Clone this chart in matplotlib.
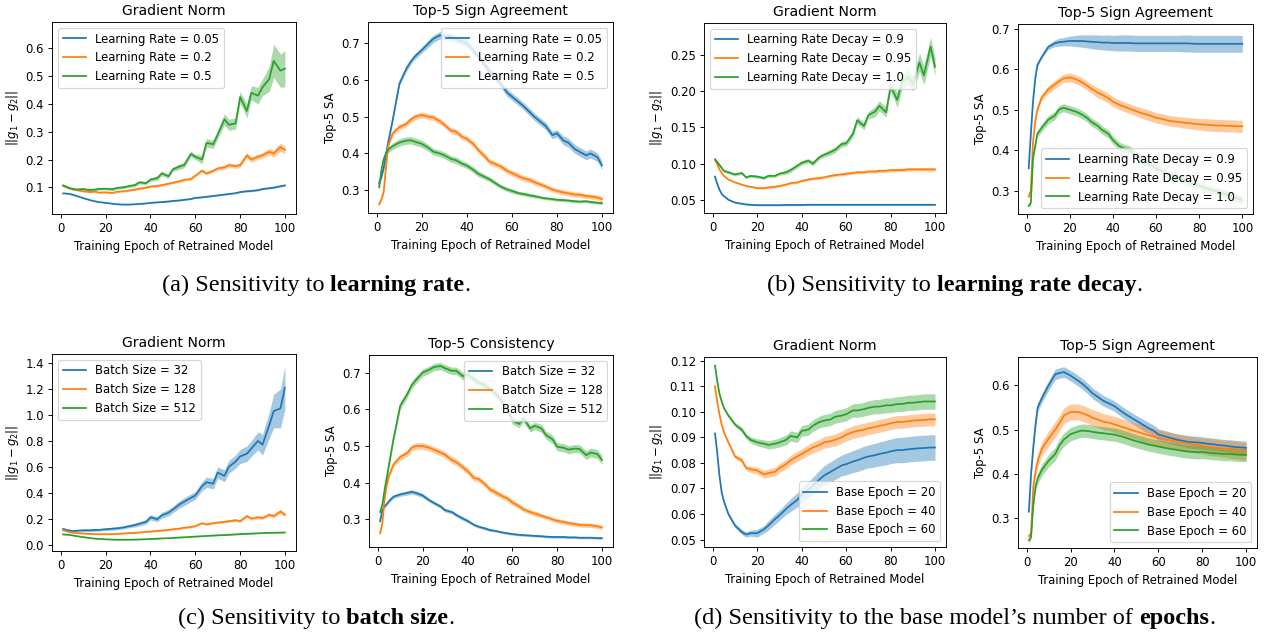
import matplotlib
matplotlib.use("Agg")
import matplotlib.pyplot as plt
import numpy as np

# ---------------- data ----------------
EPOCHS = [1, 2, 3, 4, 5, 7, 10,
          13, 15, 17, 20, 23, 25, 28, 30, 33, 35, 38, 40, 43, 45, 48, 50,
          53, 55, 58, 60, 63, 65, 68, 70, 73, 75, 78, 80, 83, 85, 88, 90,
          93, 95, 98, 100]

LR_LABELS = ["Learning Rate = 0.05", "Learning Rate = 0.2", "Learning Rate = 0.5"]
LRD_LABELS = ["Learning Rate Decay = 0.9", "Learning Rate Decay = 0.95", "Learning Rate Decay = 1.0"]
BS_LABELS = ["Batch Size = 32", "Batch Size = 128", "Batch Size = 512"]
BE_LABELS = ["Base Epoch = 20", "Base Epoch = 40", "Base Epoch = 60"]

# (a) learning rate - gradient norm
LR_GN_005 = [0.078, 0.078, 0.077, 0.076, 0.074, 0.069, 0.061,
             0.054, 0.050, 0.047, 0.044, 0.041, 0.039, 0.038, 0.038,
             0.039, 0.040, 0.042, 0.044, 0.046, 0.047, 0.049, 0.051,
             0.053, 0.055, 0.058, 0.062, 0.064, 0.066, 0.069, 0.071,
             0.074, 0.076, 0.079, 0.083, 0.086, 0.087, 0.090, 0.094,
             0.097, 0.099, 0.104, 0.107]
LR_GN_005_SD = [0.001, 0.001, 0.001, 0.001, 0.001, 0.001, 0.001,
                0.001, 0.001, 0.001, 0.001, 0.001, 0.001, 0.001, 0.001,
                0.001, 0.001, 0.001, 0.001, 0.002, 0.002, 0.002, 0.002,
                0.002, 0.002, 0.002, 0.002, 0.002, 0.002, 0.002, 0.002,
                0.002, 0.002, 0.002, 0.002, 0.003, 0.003, 0.003, 0.003,
                0.003, 0.003, 0.003, 0.003]
LR_GN_02 = [0.105, 0.102, 0.099, 0.096, 0.094, 0.090, 0.086,
            0.083, 0.085, 0.081, 0.082, 0.080, 0.084, 0.086, 0.088,
            0.092, 0.095, 0.099, 0.103, 0.105, 0.108, 0.113, 0.117,
            0.122, 0.127, 0.130, 0.142, 0.160, 0.150, 0.160, 0.168,
            0.172, 0.180, 0.176, 0.180, 0.215, 0.200, 0.210, 0.215,
            0.228, 0.222, 0.245, 0.235]
LR_GN_02_SD = [0.003, 0.003, 0.003, 0.003, 0.003, 0.003, 0.003,
               0.003, 0.003, 0.003, 0.003, 0.003, 0.003, 0.003, 0.003,
               0.004, 0.004, 0.004, 0.004, 0.004, 0.004, 0.004, 0.004,
               0.005, 0.005, 0.005, 0.005, 0.006, 0.006, 0.006, 0.006,
               0.008, 0.008, 0.008, 0.008, 0.010, 0.010, 0.010, 0.010,
               0.012, 0.013, 0.015, 0.015]
LR_GN_05 = [0.107, 0.104, 0.100, 0.097, 0.095, 0.092, 0.094,
            0.090, 0.092, 0.094, 0.095, 0.093, 0.098, 0.100, 0.104,
            0.108, 0.118, 0.115, 0.128, 0.133, 0.150, 0.140, 0.165,
            0.175, 0.180, 0.220, 0.210, 0.200, 0.260, 0.255, 0.290,
            0.345, 0.325, 0.330, 0.425, 0.375, 0.440, 0.430, 0.460,
            0.490, 0.555, 0.520, 0.527]
LR_GN_05_SD = [0.004, 0.004, 0.004, 0.004, 0.004, 0.004, 0.004,
               0.004, 0.004, 0.004, 0.004, 0.005, 0.005, 0.005, 0.005,
               0.006, 0.006, 0.006, 0.006, 0.008, 0.008, 0.008, 0.008,
               0.010, 0.010, 0.010, 0.010, 0.015, 0.015, 0.015, 0.015,
               0.020, 0.020, 0.020, 0.020, 0.025, 0.025, 0.030, 0.030,
               0.045, 0.060, 0.060, 0.065]

# (a) learning rate - top-5 sign agreement
LR_SA_005 = [0.320, 0.335, 0.360, 0.395, 0.430, 0.490, 0.590,
             0.630, 0.650, 0.665, 0.682, 0.700, 0.712, 0.722, 0.720,
             0.718, 0.712, 0.705, 0.700, 0.680, 0.665, 0.640, 0.625,
             0.605, 0.590, 0.565, 0.555, 0.540, 0.530, 0.512, 0.500,
             0.485, 0.475, 0.450, 0.455, 0.435, 0.430, 0.412, 0.405,
             0.395, 0.400, 0.390, 0.368]
LR_SA_005_SD = [0.005, 0.005, 0.005, 0.005, 0.005, 0.005, 0.006,
                0.008, 0.008, 0.008, 0.008, 0.010, 0.010, 0.010, 0.010,
                0.010, 0.010, 0.010, 0.010, 0.010, 0.010, 0.010, 0.010,
                0.010, 0.010, 0.010, 0.010, 0.010, 0.010, 0.010, 0.010,
                0.010, 0.010, 0.010, 0.010, 0.012, 0.012, 0.012, 0.012,
                0.012, 0.012, 0.012, 0.012]
LR_SA_02 = [0.262, 0.275, 0.295, 0.360, 0.420, 0.455, 0.472,
            0.480, 0.492, 0.500, 0.505, 0.500, 0.498, 0.488, 0.478,
            0.462, 0.460, 0.445, 0.440, 0.425, 0.410, 0.392, 0.378,
            0.370, 0.365, 0.352, 0.347, 0.338, 0.333, 0.328, 0.322,
            0.315, 0.310, 0.302, 0.298, 0.294, 0.292, 0.288, 0.288,
            0.284, 0.283, 0.280, 0.276]
LR_SA_02_SD = [0.005, 0.005, 0.005, 0.005, 0.006, 0.007, 0.008,
               0.008, 0.008, 0.008, 0.008, 0.008, 0.008, 0.008, 0.008,
               0.008, 0.008, 0.008, 0.008, 0.008, 0.008, 0.008, 0.008,
               0.008, 0.008, 0.008, 0.008, 0.008, 0.008, 0.008, 0.008,
               0.007, 0.007, 0.007, 0.007, 0.007, 0.007, 0.007, 0.007,
               0.007, 0.007, 0.007, 0.007]
LR_SA_05 = [0.308, 0.355, 0.385, 0.400, 0.410, 0.420, 0.430,
            0.435, 0.436, 0.432, 0.426, 0.415, 0.405, 0.400, 0.395,
            0.385, 0.382, 0.372, 0.367, 0.355, 0.345, 0.336, 0.330,
            0.318, 0.310, 0.302, 0.298, 0.292, 0.290, 0.286, 0.284,
            0.280, 0.278, 0.276, 0.274, 0.273, 0.272, 0.270, 0.269,
            0.270, 0.268, 0.266, 0.265]
LR_SA_05_SD = [0.005, 0.005, 0.006, 0.007, 0.008, 0.009, 0.010,
               0.010, 0.010, 0.010, 0.010, 0.009, 0.009, 0.009, 0.009,
               0.009, 0.009, 0.008, 0.008, 0.008, 0.008, 0.007, 0.007,
               0.006, 0.006, 0.006, 0.006, 0.005, 0.005, 0.005, 0.005,
               0.004, 0.004, 0.004, 0.004, 0.004, 0.004, 0.004, 0.004,
               0.004, 0.004, 0.004, 0.004]

# (b) learning rate decay - gradient norm
LRD_GN_09 = [0.082, 0.072, 0.064, 0.058, 0.055, 0.050, 0.046,
             0.0445, 0.0435, 0.043, 0.0425, 0.0425, 0.0425, 0.0425, 0.0425,
             0.0428, 0.0428, 0.0428, 0.0428, 0.043, 0.043, 0.043, 0.043,
             0.043, 0.043, 0.043, 0.043, 0.043, 0.043, 0.043, 0.043,
             0.043, 0.043, 0.043, 0.043, 0.043, 0.043, 0.043, 0.043,
             0.043, 0.043, 0.043, 0.043]
LRD_GN_09_SD = [0.001, 0.001, 0.001, 0.001, 0.001, 0.001, 0.001,
                0.001, 0.001, 0.001, 0.001, 0.001, 0.001, 0.001, 0.001,
                0.001, 0.001, 0.001, 0.001, 0.001, 0.001, 0.001, 0.001,
                0.001, 0.001, 0.001, 0.001, 0.001, 0.001, 0.001, 0.001,
                0.001, 0.001, 0.001, 0.001, 0.001, 0.001, 0.001, 0.001,
                0.001, 0.001, 0.001, 0.001]
LRD_GN_095 = [0.105, 0.099, 0.092, 0.087, 0.083, 0.078, 0.074,
              0.071, 0.069, 0.068, 0.066, 0.066, 0.067, 0.068, 0.069,
              0.071, 0.073, 0.074, 0.076, 0.078, 0.079, 0.080, 0.081,
              0.083, 0.084, 0.085, 0.086, 0.087, 0.088, 0.088, 0.089,
              0.089, 0.090, 0.090, 0.091, 0.091, 0.091, 0.092, 0.092,
              0.092, 0.092, 0.092, 0.092]
LRD_GN_095_SD = [0.001, 0.001, 0.001, 0.001, 0.001, 0.001, 0.001,
                 0.0012, 0.0012, 0.0012, 0.0012, 0.0015, 0.0015, 0.0015, 0.0015,
                 0.0015, 0.0015, 0.0015, 0.0015, 0.0018, 0.0018, 0.0018, 0.0018,
                 0.002, 0.002, 0.002, 0.002, 0.002, 0.002, 0.002, 0.002,
                 0.0022, 0.0022, 0.0022, 0.0022, 0.0024, 0.0024, 0.0024, 0.0024,
                 0.0025, 0.0025, 0.0025, 0.0025]
LRD_GN_10 = [0.106, 0.102, 0.098, 0.094, 0.090, 0.088, 0.085,
             0.087, 0.081, 0.083, 0.082, 0.080, 0.083, 0.083, 0.086,
             0.088, 0.091, 0.097, 0.101, 0.104, 0.100, 0.109, 0.112,
             0.116, 0.119, 0.127, 0.128, 0.141, 0.160, 0.152, 0.167,
             0.172, 0.180, 0.171, 0.207, 0.188, 0.212, 0.220, 0.210,
             0.240, 0.222, 0.262, 0.234]
LRD_GN_10_SD = [0.002, 0.002, 0.002, 0.002, 0.002, 0.002, 0.002,
                0.002, 0.002, 0.002, 0.002, 0.002, 0.002, 0.002, 0.002,
                0.003, 0.003, 0.003, 0.003, 0.003, 0.003, 0.003, 0.003,
                0.004, 0.004, 0.004, 0.004, 0.005, 0.005, 0.005, 0.005,
                0.007, 0.007, 0.007, 0.007, 0.010, 0.010, 0.010, 0.010,
                0.013, 0.013, 0.013, 0.013]

# (b) learning rate decay - top-5 sign agreement
LRD_SA_09 = [0.355, 0.440, 0.520, 0.575, 0.610, 0.630, 0.655,
             0.664, 0.667, 0.668, 0.670, 0.670, 0.670, 0.669, 0.668,
             0.667, 0.666, 0.666, 0.665, 0.665, 0.665, 0.665, 0.664,
             0.664, 0.664, 0.664, 0.664, 0.664, 0.664, 0.664, 0.664,
             0.664, 0.664, 0.663, 0.663, 0.663, 0.663, 0.663, 0.663,
             0.663, 0.663, 0.663, 0.663]
LRD_SA_09_SD = [0.004, 0.004, 0.004, 0.004, 0.004, 0.004, 0.006,
                0.008, 0.010, 0.010, 0.012, 0.014, 0.015, 0.016, 0.017,
                0.018, 0.018, 0.019, 0.019, 0.020, 0.020, 0.020, 0.020,
                0.020, 0.020, 0.020, 0.020, 0.020, 0.020, 0.020, 0.020,
                0.021, 0.021, 0.021, 0.021, 0.021, 0.021, 0.021, 0.021,
                0.021, 0.021, 0.021, 0.021]
LRD_SA_095 = [0.285, 0.300, 0.420, 0.470, 0.500, 0.530, 0.550,
              0.562, 0.570, 0.577, 0.580, 0.575, 0.570, 0.560, 0.552,
              0.542, 0.537, 0.528, 0.520, 0.512, 0.508, 0.502, 0.498,
              0.492, 0.489, 0.484, 0.480, 0.477, 0.474, 0.471, 0.470,
              0.468, 0.467, 0.465, 0.464, 0.463, 0.462, 0.461, 0.461,
              0.460, 0.460, 0.459, 0.459]
LRD_SA_095_SD = [0.005, 0.005, 0.005, 0.005, 0.006, 0.008, 0.010,
                 0.010, 0.010, 0.010, 0.011, 0.011, 0.011, 0.011, 0.011,
                 0.012, 0.012, 0.012, 0.012, 0.012, 0.012, 0.012, 0.012,
                 0.013, 0.013, 0.013, 0.013, 0.013, 0.013, 0.013, 0.013,
                 0.014, 0.014, 0.014, 0.014, 0.015, 0.015, 0.015, 0.015,
                 0.015, 0.015, 0.015, 0.015]
LRD_SA_10 = [0.262, 0.270, 0.380, 0.410, 0.440, 0.455, 0.475,
             0.485, 0.500, 0.505, 0.500, 0.495, 0.490, 0.480, 0.470,
             0.460, 0.450, 0.440, 0.425, 0.410, 0.405, 0.400, 0.390,
             0.380, 0.372, 0.362, 0.355, 0.348, 0.342, 0.336, 0.332,
             0.326, 0.322, 0.316, 0.312, 0.306, 0.303, 0.298, 0.295,
             0.290, 0.287, 0.280, 0.276]
LRD_SA_10_SD = [0.005, 0.005, 0.006, 0.007, 0.008, 0.009, 0.010,
                0.010, 0.010, 0.010, 0.010, 0.010, 0.010, 0.010, 0.010,
                0.010, 0.010, 0.010, 0.010, 0.010, 0.010, 0.010, 0.010,
                0.010, 0.010, 0.010, 0.010, 0.010, 0.010, 0.010, 0.010,
                0.010, 0.010, 0.010, 0.010, 0.010, 0.010, 0.010, 0.010,
                0.010, 0.010, 0.010, 0.010]

# (c) batch size - gradient norm
BS_GN_32 = [0.120, 0.115, 0.110, 0.108, 0.105, 0.106, 0.110,
            0.110, 0.112, 0.113, 0.118, 0.122, 0.125, 0.132, 0.140,
            0.150, 0.160, 0.175, 0.210, 0.195, 0.225, 0.245, 0.270,
            0.310, 0.330, 0.360, 0.378, 0.450, 0.480, 0.470, 0.555,
            0.530, 0.600, 0.640, 0.680, 0.700, 0.740, 0.800, 0.770,
            0.920, 1.030, 1.050, 1.210]
BS_GN_32_SD = [0.010, 0.010, 0.010, 0.010, 0.010, 0.010, 0.010,
               0.010, 0.010, 0.010, 0.010, 0.012, 0.012, 0.012, 0.012,
               0.015, 0.015, 0.018, 0.020, 0.020, 0.022, 0.025, 0.025,
               0.028, 0.030, 0.030, 0.030, 0.035, 0.040, 0.040, 0.045,
               0.045, 0.050, 0.050, 0.055, 0.060, 0.060, 0.070, 0.080,
               0.100, 0.130, 0.150, 0.170]
BS_GN_128 = [0.110, 0.105, 0.100, 0.095, 0.092, 0.088, 0.085,
             0.082, 0.080, 0.080, 0.080, 0.080, 0.082, 0.085, 0.088,
             0.090, 0.093, 0.098, 0.100, 0.105, 0.108, 0.113, 0.118,
             0.123, 0.130, 0.135, 0.142, 0.165, 0.155, 0.165, 0.170,
             0.175, 0.180, 0.188, 0.180, 0.220, 0.200, 0.210, 0.205,
             0.230, 0.220, 0.255, 0.230]
BS_GN_128_SD = [0.004, 0.004, 0.004, 0.004, 0.004, 0.004, 0.004,
                0.004, 0.004, 0.004, 0.004, 0.004, 0.004, 0.004, 0.004,
                0.005, 0.005, 0.005, 0.005, 0.006, 0.006, 0.006, 0.006,
                0.007, 0.007, 0.007, 0.007, 0.008, 0.008, 0.008, 0.008,
                0.010, 0.010, 0.010, 0.010, 0.012, 0.012, 0.012, 0.012,
                0.014, 0.015, 0.015, 0.015]
BS_GN_512 = [0.078, 0.077, 0.076, 0.074, 0.071, 0.065, 0.057,
             0.050, 0.046, 0.043, 0.040, 0.038, 0.037, 0.037, 0.037,
             0.038, 0.039, 0.041, 0.043, 0.045, 0.047, 0.049, 0.051,
             0.054, 0.056, 0.059, 0.061, 0.064, 0.066, 0.069, 0.071,
             0.073, 0.075, 0.078, 0.080, 0.083, 0.084, 0.087, 0.088,
             0.090, 0.091, 0.092, 0.093]
BS_GN_512_SD = [0.002, 0.002, 0.002, 0.002, 0.002, 0.002, 0.002,
                0.002, 0.002, 0.002, 0.002, 0.002, 0.002, 0.002, 0.002,
                0.002, 0.002, 0.002, 0.002, 0.002, 0.002, 0.002, 0.002,
                0.002, 0.002, 0.002, 0.002, 0.002, 0.002, 0.002, 0.002,
                0.003, 0.003, 0.003, 0.003, 0.003, 0.003, 0.003, 0.003,
                0.003, 0.003, 0.003, 0.003]

# (c) batch size - top-5 consistency
BS_SA_32 = [0.295, 0.325, 0.335, 0.342, 0.350, 0.362, 0.368,
            0.372, 0.375, 0.372, 0.365, 0.352, 0.345, 0.335, 0.325,
            0.320, 0.312, 0.302, 0.296, 0.285, 0.280, 0.275, 0.271,
            0.268, 0.265, 0.262, 0.260, 0.258, 0.257, 0.256, 0.255,
            0.254, 0.253, 0.252, 0.252, 0.252, 0.251, 0.251, 0.250,
            0.250, 0.250, 0.249, 0.249]
BS_SA_32_SD = [0.004, 0.004, 0.004, 0.004, 0.005, 0.005, 0.005,
               0.006, 0.006, 0.006, 0.006, 0.005, 0.005, 0.005, 0.005,
               0.005, 0.005, 0.005, 0.005, 0.004, 0.004, 0.004, 0.004,
               0.003, 0.003, 0.003, 0.003, 0.003, 0.003, 0.003, 0.003,
               0.003, 0.003, 0.003, 0.003, 0.003, 0.003, 0.003, 0.003,
               0.003, 0.003, 0.003, 0.003]
BS_SA_128 = [0.262, 0.290, 0.355, 0.395, 0.420, 0.450, 0.470,
             0.480, 0.495, 0.500, 0.500, 0.495, 0.490, 0.482, 0.476,
             0.462, 0.456, 0.442, 0.432, 0.412, 0.410, 0.395, 0.382,
             0.372, 0.365, 0.356, 0.346, 0.336, 0.327, 0.320, 0.316,
             0.310, 0.306, 0.300, 0.296, 0.293, 0.290, 0.287, 0.285,
             0.284, 0.284, 0.281, 0.278]
BS_SA_128_SD = [0.005, 0.005, 0.006, 0.007, 0.008, 0.008, 0.008,
                0.009, 0.009, 0.009, 0.009, 0.009, 0.009, 0.009, 0.009,
                0.009, 0.009, 0.009, 0.009, 0.008, 0.008, 0.008, 0.008,
                0.008, 0.008, 0.008, 0.008, 0.007, 0.007, 0.007, 0.007,
                0.006, 0.006, 0.006, 0.006, 0.006, 0.006, 0.006, 0.006,
                0.006, 0.006, 0.006, 0.006]
BS_SA_512 = [0.320, 0.340, 0.380, 0.415, 0.450, 0.520, 0.610,
             0.640, 0.665, 0.680, 0.700, 0.708, 0.715, 0.718, 0.712,
             0.705, 0.705, 0.690, 0.695, 0.682, 0.672, 0.665, 0.655,
             0.640, 0.625, 0.600, 0.570, 0.560, 0.575, 0.548, 0.555,
             0.548, 0.530, 0.518, 0.498, 0.495, 0.490, 0.493, 0.492,
             0.475, 0.482, 0.478, 0.462]
BS_SA_512_SD = [0.005, 0.005, 0.006, 0.007, 0.008, 0.009, 0.010,
                0.010, 0.010, 0.010, 0.010, 0.010, 0.010, 0.010, 0.010,
                0.010, 0.010, 0.010, 0.010, 0.010, 0.010, 0.010, 0.010,
                0.010, 0.010, 0.010, 0.010, 0.010, 0.010, 0.010, 0.010,
                0.011, 0.011, 0.011, 0.011, 0.011, 0.011, 0.011, 0.011,
                0.012, 0.012, 0.012, 0.012]

# (d) base epochs - gradient norm
BE_GN_20 = [0.0915, 0.084, 0.075, 0.0685, 0.065, 0.060, 0.0555,
            0.053, 0.052, 0.0525, 0.0525, 0.054, 0.0555, 0.058, 0.0595,
            0.062, 0.0635, 0.0655, 0.0675, 0.0695, 0.071, 0.0735, 0.075,
            0.0765, 0.0775, 0.079, 0.0795, 0.0805, 0.081, 0.082, 0.0825,
            0.083, 0.0835, 0.084, 0.0845, 0.085, 0.085, 0.0853, 0.0855,
            0.0857, 0.0858, 0.086, 0.086]
BE_GN_20_SD = [0.0005, 0.0005, 0.0005, 0.0005, 0.0005, 0.0007, 0.0008,
               0.0010, 0.0010, 0.0012, 0.0015, 0.0015, 0.0018, 0.0020, 0.0020,
               0.0022, 0.0025, 0.0028, 0.0030, 0.0032, 0.0034, 0.0036, 0.0038,
               0.0040, 0.0040, 0.0041, 0.0042, 0.0043, 0.0044, 0.0045, 0.0045,
               0.0046, 0.0047, 0.0048, 0.0048, 0.0049, 0.0050, 0.0050, 0.0050,
               0.0050, 0.0050, 0.0050, 0.0050]
BE_GN_40 = [0.110, 0.104, 0.099, 0.095, 0.092, 0.088, 0.0825,
            0.081, 0.078, 0.0775, 0.077, 0.0755, 0.076, 0.0765, 0.078,
            0.0795, 0.081, 0.0825, 0.0835, 0.085, 0.086, 0.087, 0.088,
            0.0885, 0.089, 0.090, 0.091, 0.092, 0.0925, 0.093, 0.0935,
            0.094, 0.0945, 0.095, 0.0955, 0.096, 0.096, 0.0963, 0.0965,
            0.0967, 0.0968, 0.097, 0.097]
BE_GN_40_SD = [0.0005, 0.0005, 0.0005, 0.0005, 0.0005, 0.0007, 0.0008,
               0.0010, 0.0010, 0.0012, 0.0014, 0.0015, 0.0016, 0.0017, 0.0018,
               0.0018, 0.0019, 0.0020, 0.0020, 0.0021, 0.0022, 0.0022, 0.0023,
               0.0023, 0.0024, 0.0024, 0.0025, 0.0025, 0.0025, 0.0025, 0.0025,
               0.0025, 0.0025, 0.0025, 0.0025, 0.0025, 0.0025, 0.0025, 0.0025,
               0.0025, 0.0025, 0.0025, 0.0025]
BE_GN_60 = [0.118, 0.112, 0.107, 0.104, 0.1015, 0.0985, 0.095,
            0.093, 0.0905, 0.089, 0.088, 0.0875, 0.087, 0.0875, 0.088,
            0.089, 0.0905, 0.090, 0.0925, 0.093, 0.0945, 0.096, 0.0965,
            0.097, 0.098, 0.0985, 0.099, 0.1005, 0.1005, 0.101, 0.1015,
            0.102, 0.102, 0.1025, 0.1025, 0.103, 0.103, 0.1035, 0.1035,
            0.1038, 0.104, 0.104, 0.104]
BE_GN_60_SD = [0.0005, 0.0005, 0.0005, 0.0005, 0.0005, 0.0007, 0.0008,
               0.0010, 0.0010, 0.0012, 0.0014, 0.0015, 0.0016, 0.0017, 0.0018,
               0.0019, 0.0020, 0.0020, 0.0021, 0.0022, 0.0022, 0.0023, 0.0024,
               0.0024, 0.0025, 0.0025, 0.0026, 0.0026, 0.0027, 0.0027, 0.0028,
               0.0028, 0.0028, 0.0029, 0.0029, 0.0029, 0.0030, 0.0030, 0.0030,
               0.0030, 0.0030, 0.0030, 0.0030]

# (d) base epochs - top-5 sign agreement
BE_SA_20 = [0.315, 0.400, 0.460, 0.510, 0.550, 0.572, 0.600,
            0.625, 0.628, 0.630, 0.622, 0.612, 0.605, 0.592, 0.582,
            0.572, 0.565, 0.558, 0.553, 0.542, 0.535, 0.526, 0.520,
            0.511, 0.505, 0.497, 0.489, 0.485, 0.482, 0.478, 0.476,
            0.473, 0.472, 0.471, 0.470, 0.468, 0.467, 0.465, 0.464,
            0.462, 0.461, 0.460, 0.459]
BE_SA_20_SD = [0.006, 0.007, 0.008, 0.009, 0.010, 0.010, 0.011,
               0.012, 0.012, 0.012, 0.012, 0.012, 0.012, 0.012, 0.012,
               0.012, 0.012, 0.012, 0.012, 0.012, 0.012, 0.012, 0.012,
               0.013, 0.013, 0.013, 0.013, 0.013, 0.013, 0.013, 0.013,
               0.014, 0.014, 0.014, 0.014, 0.014, 0.014, 0.014, 0.014,
               0.015, 0.015, 0.015, 0.015]
BE_SA_40 = [0.260, 0.265, 0.370, 0.405, 0.430, 0.458, 0.480,
            0.500, 0.515, 0.532, 0.540, 0.540, 0.538, 0.532, 0.527,
            0.522, 0.518, 0.515, 0.512, 0.507, 0.504, 0.499, 0.496,
            0.491, 0.488, 0.484, 0.481, 0.478, 0.476, 0.473, 0.471,
            0.469, 0.467, 0.465, 0.463, 0.461, 0.460, 0.458, 0.457,
            0.455, 0.454, 0.452, 0.451]
BE_SA_40_SD = [0.008, 0.008, 0.010, 0.012, 0.014, 0.016, 0.017,
               0.018, 0.018, 0.018, 0.018, 0.018, 0.018, 0.018, 0.018,
               0.018, 0.018, 0.018, 0.018, 0.018, 0.018, 0.018, 0.018,
               0.018, 0.018, 0.018, 0.018, 0.018, 0.018, 0.018, 0.018,
               0.018, 0.018, 0.018, 0.018, 0.019, 0.019, 0.019, 0.019,
               0.020, 0.020, 0.020, 0.020]
BE_SA_60 = [0.250, 0.258, 0.330, 0.370, 0.390, 0.410, 0.430,
            0.445, 0.465, 0.478, 0.490, 0.495, 0.498, 0.497, 0.495,
            0.493, 0.492, 0.490, 0.489, 0.485, 0.482, 0.477, 0.474,
            0.470, 0.467, 0.464, 0.462, 0.459, 0.457, 0.455, 0.453,
            0.451, 0.450, 0.449, 0.450, 0.448, 0.447, 0.446, 0.445,
            0.445, 0.444, 0.443, 0.443]
BE_SA_60_SD = [0.006, 0.006, 0.008, 0.010, 0.012, 0.013, 0.014,
               0.015, 0.015, 0.015, 0.015, 0.015, 0.015, 0.015, 0.015,
               0.015, 0.015, 0.015, 0.015, 0.015, 0.015, 0.015, 0.015,
               0.015, 0.015, 0.015, 0.015, 0.015, 0.015, 0.015, 0.015,
               0.015, 0.015, 0.015, 0.015, 0.015, 0.015, 0.015, 0.015,
               0.015, 0.015, 0.015, 0.015]

TITLES = ["Gradient Norm", "Top-5 Sign Agreement", "Gradient Norm", "Top-5 Sign Agreement",
          "Gradient Norm", "Top-5 Consistency", "Gradient Norm", "Top-5 Sign Agreement"]
GN_LABEL = r"$||g_1 - g_2||$"
SA_LABEL = "Top-5 SA"
X_LABEL = "Training Epoch of Retrained Model"

CAPTIONS = [
    [("(a) Sensitivity to ", "normal"), ("learning rate", "bold"), (".", "normal")],
    [("(b) Sensitivity to ", "normal"), ("learning rate decay", "bold"), (".", "normal")],
    [("(c) Sensitivity to ", "normal"), ("batch size", "bold"), (".", "normal")],
    [("(d) Sensitivity to the base model\u2019s number of ", "normal"), ("epochs", "bold"), (".", "normal")],
]

# ---------------- layout ----------------
W, H = 1266, 632
DPI = 84
fig = plt.figure(figsize=(W / DPI, H / DPI), dpi=DPI)

# panel boxes in pixels: left, top, right, bottom
BOXES = [(52, 22, 296, 214), (368, 22, 613, 213), (704, 23, 946, 213), (1018, 24, 1253, 214),
         (52, 354, 296, 551), (369, 355, 613, 547), (704, 357, 946, 547), (1018, 357, 1257, 548)]
YLIMS = [(0.004, 0.695), (0.238, 0.758), (0.0316, 0.2946), (0.242, 0.712),
         (-0.05, 1.47), (0.2247, 0.748), (0.0471, 0.1214), (0.233, 0.664)]
LEGEND_LOCS = ["upper left", "upper right", "upper left", "lower right",
               "upper left", "upper right", "lower right", "lower right"]

PANELS = [
    ([LR_GN_005, LR_GN_02, LR_GN_05], [LR_GN_005_SD, LR_GN_02_SD, LR_GN_05_SD], LR_LABELS, GN_LABEL),
    ([LR_SA_005, LR_SA_02, LR_SA_05], [LR_SA_005_SD, LR_SA_02_SD, LR_SA_05_SD], LR_LABELS, SA_LABEL),
    ([LRD_GN_09, LRD_GN_095, LRD_GN_10], [LRD_GN_09_SD, LRD_GN_095_SD, LRD_GN_10_SD], LRD_LABELS, GN_LABEL),
    ([LRD_SA_09, LRD_SA_095, LRD_SA_10], [LRD_SA_09_SD, LRD_SA_095_SD, LRD_SA_10_SD], LRD_LABELS, SA_LABEL),
    ([BS_GN_32, BS_GN_128, BS_GN_512], [BS_GN_32_SD, BS_GN_128_SD, BS_GN_512_SD], BS_LABELS, GN_LABEL),
    ([BS_SA_32, BS_SA_128, BS_SA_512], [BS_SA_32_SD, BS_SA_128_SD, BS_SA_512_SD], BS_LABELS, SA_LABEL),
    ([BE_GN_20, BE_GN_40, BE_GN_60], [BE_GN_20_SD, BE_GN_40_SD, BE_GN_60_SD], BE_LABELS, GN_LABEL),
    ([BE_SA_20, BE_SA_40, BE_SA_60], [BE_SA_20_SD, BE_SA_40_SD, BE_SA_60_SD], BE_LABELS, SA_LABEL),
]

COLORS = ["C0", "C1", "C2"]
x = np.array(EPOCHS)

for i, ((series, bands, labels, ylab), box) in enumerate(zip(PANELS, BOXES)):
    l, t, r, b = box
    ax = fig.add_axes([l / W, 1 - b / H, (r - l) / W, (b - t) / H])
    for s, sd, lab, c in zip(series, bands, labels, COLORS):
        y = np.array(s)
        e = np.array(sd)
        ax.plot(x, y, color=c, label=lab)
        ax.fill_between(x, y - e, y + e, color=c, alpha=0.4, linewidth=0)
    ax.set_xlim(-3.95, 104.95)
    ax.set_ylim(*YLIMS[i])
    ax.set_xticks([0, 20, 40, 60, 80, 100])
    ax.set_title(TITLES[i])
    ax.set_xlabel(X_LABEL)
    ax.set_ylabel(ylab)
    ax.legend(loc=LEGEND_LOCS[i])

# captions
CAP_CENTERS = [(316, 291), (955, 291), (316, 624), (955, 624)]
renderer = fig.canvas.get_renderer()
for parts, (cx, cy) in zip(CAPTIONS, CAP_CENTERS):
    texts = []
    for s, wgt in parts:
        tx = fig.text(0, 1 - cy / H, s, fontweight=wgt, family="Liberation Serif",
                      fontsize=20.8, va="baseline", ha="left")
        texts.append(tx)
    widths = [tx.get_window_extent(renderer).width for tx in texts]
    xpos = cx - sum(widths) / 2
    for tx, wd in zip(texts, widths):
        tx.set_x(xpos / W)
        xpos += wd

fig.savefig("out.png", dpi=DPI)
